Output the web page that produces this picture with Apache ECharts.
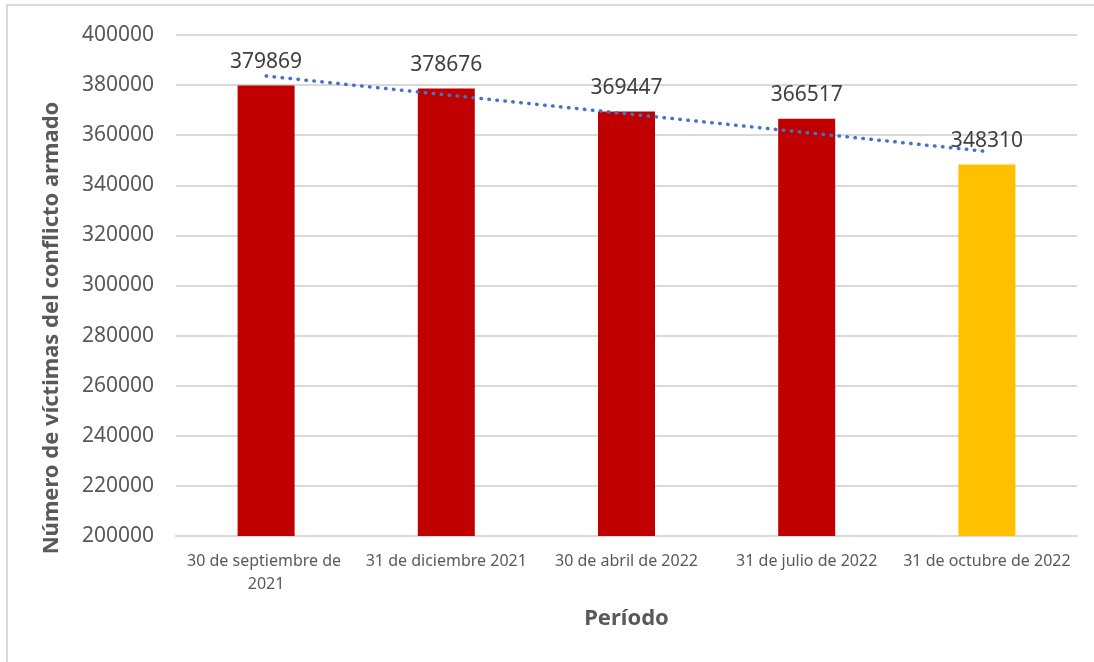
<!DOCTYPE html>
<html>
<head>
<meta charset="utf-8">
<script src="https://cdn.jsdelivr.net/npm/echarts@6/dist/echarts.min.js"></script>
<style>
  html, body { margin: 0; padding: 0; background: #ffffff; overflow: hidden; }
  #frame {
    position: absolute;
    left: 6px;
    top: 4px;
    width: 1200px;
    height: 800px;
    border-top: 2px solid #d9d9d9;
    border-left: 2px solid #d9d9d9;
  }
  #chart { position: absolute; left: 0; top: 0; width: 1094px; height: 662px; }
</style>
</head>
<body>
<div id="frame"></div>
<div id="chart"></div>
<script>
// datos
var periodos = [
  "30 de septiembre de 2021",
  "31 de diciembre 2021",
  "30 de abril de 2022",
  "31 de julio de 2022",
  "31 de octubre de 2022"
];
var victimas = [379869, 378676, 369447, 366517, 348310];
var tendencia = [383619, 376092, 368564, 361036, 353508];
var coloresBarra = ["#C00000", "#C00000", "#C00000", "#C00000", "#FFC000"];

var fuente = "'Noto Sans', 'Open Sans', sans-serif";
var chart = echarts.init(document.getElementById("chart"));

var option = {
  animation: false,
  textStyle: { fontFamily: fuente },
  grid: { left: 176, right: 17, top: 35, bottom: 126 },
  graphic: [
    {
      type: "text",
      rotation: Math.PI / 2,
      x: 52,
      y: 328,
      style: {
        text: "Número de víctimas del conflicto armado",
        fill: "#595959",
        font: "bold 22px 'Noto Sans', sans-serif",
        textAlign: "center",
        textVerticalAlign: "middle"
      }
    }
  ],
  xAxis: {
    type: "category",
    data: periodos,
    name: "Período",
    nameLocation: "middle",
    nameGap: 72,
    nameTextStyle: { color: "#595959", fontSize: 22, fontWeight: "bold" },
    axisLine: { lineStyle: { color: "#d9d9d9", width: 2 } },
    axisTick: { show: false },
    axisLabel: {
      color: "#595959",
      fontSize: 16,
      margin: 14,
      interval: 0,
      width: 176,
      overflow: "break",
      lineHeight: 23
    }
  },
  yAxis: {
    type: "value",
    min: 200000,
    max: 400000,
    interval: 20000,
    axisLine: { show: false },
    axisTick: { show: false },
    axisLabel: {
      color: "#595959",
      fontSize: 21,
      margin: 22,
      formatter: function (v) { return String(v); }
    },
    splitLine: { lineStyle: { color: "#d9d9d9", width: 2 } }
  },
  series: [
    {
      type: "bar",
      data: victimas.map(function (v, i) {
        return { value: v, itemStyle: { color: coloresBarra[i] } };
      }),
      barWidth: 57,
      label: {
        show: true,
        position: "top",
        distance: 13,
        color: "#404040",
        fontSize: 21
      },
      z: 2
    },
    {
      type: "line",
      data: tendencia,
      symbol: "none",
      lineStyle: { color: "#4472C4", width: 3.5, type: [0.5, 7.5], cap: "round" },
      z: 3
    }
  ]
};

chart.setOption(option);
</script>
</body>
</html>
